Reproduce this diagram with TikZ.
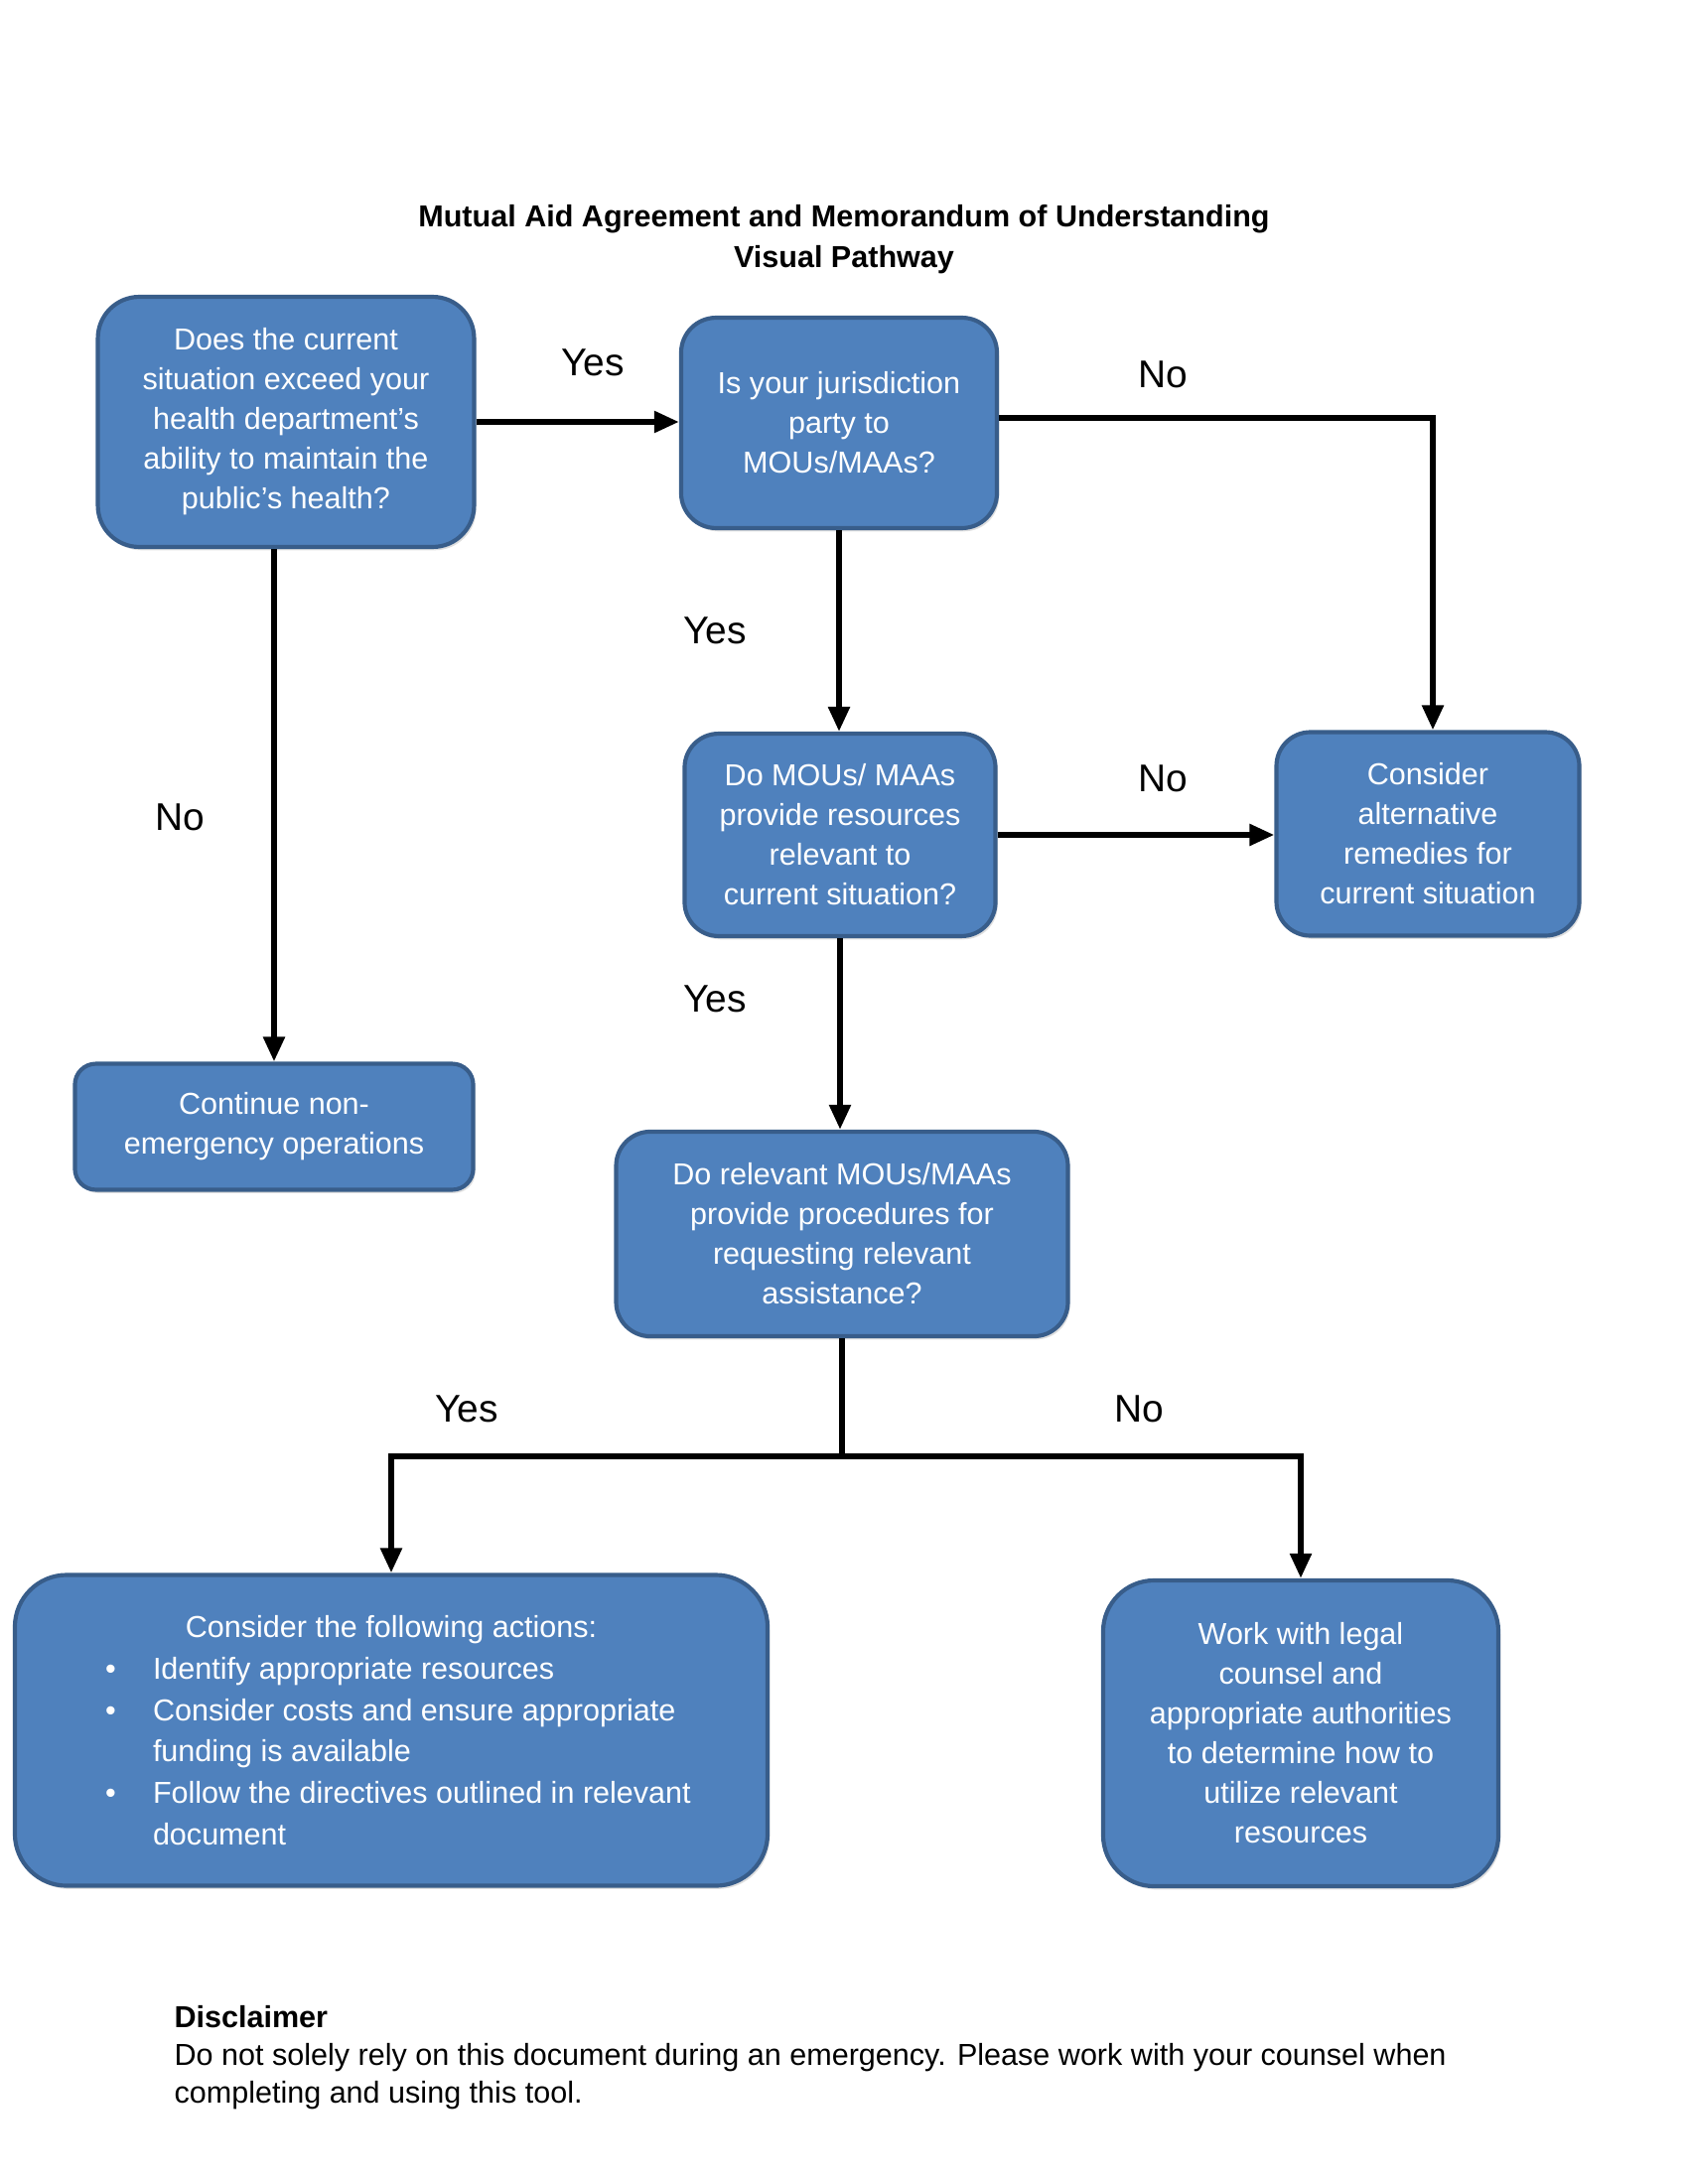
\documentclass[tikz,border=0pt]{standalone}
\usepackage{fontspec}
\setmainfont{Liberation Sans}
\usetikzlibrary{arrows.meta,shadows}
\definecolor{boxfill}{HTML}{4F81BD}
\definecolor{boxline}{HTML}{385D8A}
\begin{document}
\begin{tikzpicture}[x=0.36pt,y=-0.36pt,
  box/.style={draw=boxline, line width=1.5pt, fill=boxfill, text=white, align=center,
    inner sep=0pt, font=\fontsize{11}{14.4}\selectfont,
    drop shadow={opacity=0.25, shadow xshift=0.8pt, shadow yshift=-1.2pt}},
  lbl/.style={font=\fontsize{14}{16}\selectfont, inner sep=0pt},
  arr/.style={line width=2.1pt, -{Triangle[length=9pt,width=7.5pt]}},
  ln/.style={line width=2.1pt}]
\useasboundingbox (0,0) rectangle (1700,2200);

% title
\node[font=\bfseries\fontsize{11}{14.6}\selectfont, align=center] (title) at (850,241)
  {Mutual Aid Agreement and Memorandum of Understanding\\Visual Pathway};

% boxes
\node[box, minimum width=136.4pt, minimum height=90.7pt, rounded corners=15pt] (b1) at (288,425)
  {Does the current\\situation exceed your\\health department’s\\ability to maintain the\\public’s health?};
\node[box, minimum width=114.5pt, minimum height=76.3pt, rounded corners=12.7pt] (b2) at (845,426)
  {Is your jurisdiction\\party to\\MOUs/MAAs?};
\node[box, minimum width=112.7pt, minimum height=73.4pt, rounded corners=12.3pt] (b3) at (846,841)
  {Do MOUs/ MAAs\\provide resources\\relevant to\\current situation?};
\node[box, minimum width=109.8pt, minimum height=73.8pt, rounded corners=12.3pt] (b4) at (1438,840)
  {Consider\\alternative\\remedies for\\current situation};
\node[box, minimum width=144.4pt, minimum height=45.7pt, rounded corners=7.6pt] (b5) at (276,1135)
  {Continue non-\\emergency operations};
\node[box, minimum width=163.8pt, minimum height=74.2pt, rounded corners=12.4pt] (b6) at (848,1243)
  {Do relevant MOUs/MAAs\\provide procedures for\\requesting relevant\\assistance?};
\node[box, minimum width=272.9pt, minimum height=112.7pt, rounded corners=18.8pt, align=left] (b7) at (394,1743)
  {\begin{minipage}{240pt}\fontsize{11}{15}\selectfont
   \centering Consider the following actions:\par
   \begin{list}{\textbullet}{\setlength{\leftmargin}{33.6pt}\setlength{\labelwidth}{5pt}%
     \setlength{\labelsep}{13.4pt}\setlength{\topsep}{0pt}\setlength{\itemsep}{0pt}%
     \setlength{\parsep}{0pt}\setlength{\partopsep}{0pt}}\raggedright
   \item Identify appropriate resources
   \item Consider costs and ensure appropriate funding is available
   \item Follow the directives outlined in relevant document
   \end{list}
   \end{minipage}};
\node[box, minimum width=143.3pt, minimum height=110.9pt, rounded corners=18.5pt] (b8) at (1310,1746)
  {Work with legal\\counsel and\\appropriate authorities\\to determine how to\\utilize relevant\\resources};

% connectors
\coordinate (j) at (848,1467);
\coordinate (c1) at (1443,421);
\draw[arr] (b1.east) -- (b1.east -| b2.west);
\draw[arr] (b2.east |- c1) -- (c1) -- (c1 |- b4.north);
\draw[arr] (b2.south) -- (b2.south |- b3.north);
\draw[arr] (b1.south -| b5.north) -- (b5.north);
\draw[arr] (b3.east) -- (b3.east -| b4.west);
\draw[arr] (b3.south) -- (b3.south |- b6.north);
\draw[ln] (b6.south) -- (j);
\draw[arr] (j) -| (b7.north);
\draw[arr] (j) -| (b8.north);

% labels
\node[lbl] (l1) at (597,365) {Yes};
\node[lbl] (l2) at (1171,377) {No};
\node[lbl] (l3) at (720,635) {Yes};
\node[lbl] (l4) at (181,823) {No};
\node[lbl] (l5) at (1171,784) {No};
\node[lbl] (l6) at (720,1006) {Yes};
\node[lbl] (l7) at (470,1419) {Yes};
\node[lbl] (l8) at (1147,1419) {No};

% disclaimer
\node[anchor=north west, align=left, inner sep=0pt, font=\fontsize{11}{13.6}\selectfont] (disc) at (175,2020)
  {\textbf{Disclaimer}\\Do not solely rely on this document during an emergency. Please work with your counsel when\\completing and using this tool.};
\end{tikzpicture}
\end{document}
